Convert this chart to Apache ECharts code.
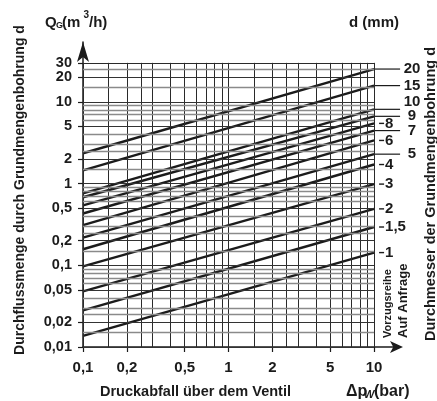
<!DOCTYPE html>
<html>
<head>
<meta charset="utf-8">
<script src="https://cdn.jsdelivr.net/npm/echarts@6/dist/echarts.min.js"></script>
<style>
html, body { margin: 0; padding: 0; background: #fff; }
#chart { width: 437px; height: 401px; }
</style>
</head>
<body>
<div id="chart"></div>
<script>
// Durchmesser der Grundmengenbohrung (Beschriftung rechts)
var diameters = ['20', '15', '10', '9', '8', '7', '6', '5', '4', '3', '2', '1,5', '1'];
// Durchfluss in m3/h bei 0,1 bar und bei 10 bar
var flowAt01 = [2.35, 1.45, 0.76, 0.68, 0.54, 0.43, 0.31, 0.218, 0.157, 0.097, 0.048, 0.028, 0.0137];
var flowAt10 = [25.2, 15.8, 8.1, 6.65, 5.45, 4.45, 3.37, 2.29, 1.71, 0.985, 0.49, 0.294, 0.143];
// 1 = Beschriftung weiter rechts mit langer Hinweislinie
var labelFar = [1, 1, 1, 1, 0, 1, 0, 1, 0, 0, 0, 0, 0];

var yTicks = [0.01, 0.02, 0.05, 0.1, 0.2, 0.5, 1, 2, 5, 10, 20, 30];
var yTickLabels = ['0,01', '0,02', '0,05', '0,1', '0,2', '0,5', '1', '2', '5', '10', '20', '30'];
var xTicks = [0.1, 0.2, 0.5, 1, 2, 5, 10];
var xTickLabels = ['0,1', '0,2', '0,5', '1', '2', '5', '10'];

// Rasterlinien je Dekade
var gridSteps = [1, 1.5, 2, 2.5, 3, 4, 5, 6, 7, 8, 9];
var xDecades = [0.1, 1];
var yDecades = [0.01, 0.1, 1, 10];

var FONT = '"Liberation Sans", Arial, sans-serif';
var INK = '#1b1b1b';

var chart = echarts.init(document.getElementById('chart'));

function pickLabel(v, ticks, labels) {
    var best = 0, dist = Infinity;
    for (var i = 0; i < ticks.length; i++) {
        var d = Math.abs(Math.log(v) - Math.log(ticks[i]));
        if (d < dist) { dist = d; best = i; }
    }
    return labels[best];
}

// Raster als markLine
var gridLines = [];
xDecades.forEach(function (dec) {
    gridSteps.forEach(function (s) {
        var x = dec * s;
        gridLines.push([{ coord: [x, 0.01] }, { coord: [x, 30] }]);
    });
});
gridLines.push([{ coord: [10, 0.01] }, { coord: [10, 30] }]);
yDecades.forEach(function (dec) {
    gridSteps.forEach(function (s) {
        var y = dec * s;
        if (y > 30) return;
        var major = yTicks.indexOf(+y.toPrecision(3)) >= 0;
        gridLines.push([
            { coord: [0.1, y], lineStyle: { color: major ? '#333' : '#8a8a8a', width: major ? 1 : 1.3 } },
            { coord: [10, y] }
        ]);
    });
});
gridLines.push([{ coord: [0.1, 30] }, { coord: [10, 30] }]);

var series = [{
    type: 'line',
    data: [],
    silent: true,
    markLine: {
        silent: true,
        symbol: ['none', 'none'],
        animation: false,
        label: { show: false },
        lineStyle: { type: 'solid', color: '#2a2a2a', width: 1 },
        data: gridLines
    }
}];

diameters.forEach(function (d, i) {
    series.push({
        name: d,
        type: 'line',
        symbol: 'none',
        animation: false,
        silent: true,
        lineStyle: { color: INK, width: 2.4 },
        data: [[0.1, flowAt01[i]], [10, flowAt10[i]]]
    });
});

var option = {
    animation: false,
    grid: { left: 83, right: 39, top: 42, bottom: 54 },
    xAxis: {
        type: 'log',
        logBase: 10,
        min: 0.1,
        max: 14.6,
        axisLine: {
            show: true,
            symbol: ['none', 'arrow'],
            symbolSize: [9, 13],
            symbolOffset: [0, 5],
            lineStyle: { color: INK, width: 1.5 }
        },
        axisTick: { show: true, customValues: xTicks, length: 5, lineStyle: { color: INK, width: 1.2 } },
        axisLabel: {
            customValues: xTicks,
            hideOverlap: false,
            showMinLabel: true,
            showMaxLabel: true,
            color: INK, fontFamily: FONT, fontWeight: 'bold', fontSize: 15, margin: 13,
            formatter: function (v) { return pickLabel(v, xTicks, xTickLabels); }
        },
        splitLine: { show: false },
        minorTick: { show: false }
    },
    yAxis: {
        type: 'log',
        logBase: 10,
        min: 0.01,
        max: 54,
        axisLine: {
            show: true,
            symbol: ['none', 'arrow'],
            symbolSize: [9, 20],
            lineStyle: { color: INK, width: 1.5 }
        },
        axisTick: { show: true, customValues: yTicks, length: 5, lineStyle: { color: INK, width: 1.2 } },
        axisLabel: { show: false },
        splitLine: { show: false }
    },
    series: series
};
chart.setOption(option);

// Beschriftungen rechts und Achsentitel
var g = [];
function txt(x, y, s, size, extra) {
    var o = {
        type: 'text', x: x, y: y, silent: true,
        style: { text: s, fill: INK, font: 'bold ' + size + 'px ' + FONT, align: 'left', verticalAlign: 'middle' }
    };
    if (extra) {
        for (var k in extra) {
            if (k === 'style') { for (var kk in extra.style) o.style[kk] = extra.style[kk]; }
            else o[k] = extra[k];
        }
    }
    return o;
}

// y-Achsenbeschriftung (20 und 30 liegen dicht beieinander)
yTicks.forEach(function (v, i) {
    var p = chart.convertToPixel({ gridIndex: 0 }, [0.1, v]);
    g.push(txt(p[0] - 11, p[1], yTickLabels[i], 14.5, { style: { align: 'right' } }));
});

// Hinweislinien und Durchmesser an den Linienenden
var labelShift = [0, 0, -7, 0, 0, 0, 0, 0, 0, 0, 0, 0, 0];
diameters.forEach(function (d, i) {
    var p = chart.convertToPixel({ gridIndex: 0 }, [10, flowAt10[i]]);
    if (labelFar[i]) {
        g.push({
            type: 'line', silent: true,
            shape: { x1: p[0], y1: p[1], x2: p[0] + 26, y2: p[1] },
            style: { stroke: INK, lineWidth: 1.2 }
        });
        g.push(txt(412, p[1] + labelShift[i], d, 15, { style: { align: 'center' } }));
    } else {
        g.push({
            type: 'line', silent: true,
            shape: { x1: p[0] + 5, y1: p[1], x2: p[0] + 10, y2: p[1] },
            style: { stroke: INK, lineWidth: 1.4 }
        });
        g.push(txt(p[0] + 11, p[1], d, 15));
    }
});

g.push(txt(45, 22.5, 'Q', 15));
g.push(txt(56, 25.5, 'G', 9));
g.push(txt(62, 22.5, '(m', 15));
g.push(txt(83.5, 15.5, '3', 10));
g.push(txt(89, 22.5, '/h)', 15));
g.push(txt(349, 22.5, 'd (mm)', 15));
g.push(txt(100, 391.5, 'Druckabfall über dem Ventil', 14.5));
g.push(txt(346, 391.5, '\u0394p', 16));
g.push(txt(364, 394.5, 'W', 11, { style: { font: 'italic bold 11px ' + FONT } }));
g.push(txt(374, 391.5, '(bar)', 16));

g.push(txt(20, 190, 'Durchflussmenge durch Grundmengenbohrung d', 14,
    { rotation: Math.PI / 2, style: { align: 'center' } }));
g.push(txt(431, 194, 'Durchmesser der Grundmengenbohrung d', 14.5,
    { rotation: Math.PI / 2, style: { align: 'center' } }));
g.push(txt(388, 338, 'Vorzugsreihe', 11,
    { rotation: Math.PI / 2 }));
g.push(txt(403, 338, 'Auf Anfrage', 13,
    { rotation: Math.PI / 2 }));

chart.setOption({ graphic: g });
</script>
</body>
</html>
